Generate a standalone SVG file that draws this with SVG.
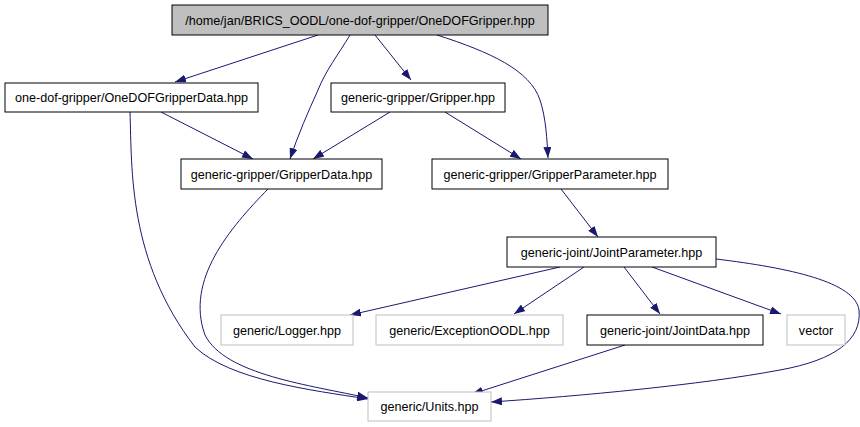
<svg xmlns="http://www.w3.org/2000/svg" width="860" height="427" viewBox="0 0 860 427">
<defs>
<style>
.n rect{fill:#fff;stroke:#000;stroke-width:1}
.n.root rect{fill:#bfbfbf}
.n.ext rect{stroke:#bfbfbf}
.n text{font-family:"Liberation Sans",Arial,sans-serif;font-size:12.6px;text-anchor:middle;fill:#000}
.e path{fill:none;stroke:#191970;stroke-width:1;marker-end:url(#ah)}
</style>
<marker id="ah" viewBox="0 0 11 8" refX="11" refY="4" markerWidth="11" markerHeight="8" markerUnits="userSpaceOnUse" orient="auto">
<path d="M0,0 L11,4 L0,8 z" fill="#191970"/>
</marker>
</defs>
<rect width="860" height="427" fill="#fff"/>
<g id="edges" class="e">
<path d="M318,35 L175,82"/>
<path d="M350,35 C338,55 326,70 318,90 C308,112 298,135 290,159"/>
<path d="M375,35 L411,80"/>
<path d="M437,35 C490,52 530,70 540,100 C546,118 547,140 548,158"/>
<path d="M161,112 L253,159"/>
<path d="M130,112 C132,170 128,260 195,347 C230,380 310,390 368,399"/>
<path d="M390,112 L313,159"/>
<path d="M445,112 L521,159"/>
<path d="M268,189 C230,228 185,280 205,335 C225,375 310,385 368,398"/>
<path d="M561,189 L598,237"/>
<path d="M560,267 L350,315"/>
<path d="M584,267 L514,314"/>
<path d="M624,267 L660,314"/>
<path d="M652,267 L781,314"/>
<path d="M716,259 C790,268 855,282 859,310 C862,340 835,360 780,370 C700,385 580,396 491,402"/>
<path d="M625,345 L472,394"/>
</g>
<g id="n_root" class="n root"><rect x="172" y="5" width="376" height="30"/><text x="360" y="24.5">/home/jan/BRICS_OODL/one-dof-gripper/OneDOFGripper.hpp</text></g>
<g id="n_onedofdata" class="n"><rect x="5" y="83" width="253" height="29"/><text x="131.5" y="102">one-dof-gripper/OneDOFGripperData.hpp</text></g>
<g id="n_gripper" class="n"><rect x="331" y="83" width="174" height="29"/><text x="418" y="102">generic-gripper/Gripper.hpp</text></g>
<g id="n_gripperdata" class="n"><rect x="181" y="159" width="201" height="30"/><text x="281.5" y="178.5">generic-gripper/GripperData.hpp</text></g>
<g id="n_gripperparam" class="n"><rect x="432" y="159" width="236" height="30"/><text x="550" y="178.5">generic-gripper/GripperParameter.hpp</text></g>
<g id="n_jointparam" class="n"><rect x="507" y="237" width="209" height="30"/><text x="611.5" y="256.5">generic-joint/JointParameter.hpp</text></g>
<g id="n_logger" class="n ext"><rect x="221" y="315" width="132" height="30"/><text x="287" y="334.5">generic/Logger.hpp</text></g>
<g id="n_exception" class="n ext"><rect x="376" y="315" width="187" height="30"/><text x="469.5" y="334.5">generic/ExceptionOODL.hpp</text></g>
<g id="n_jointdata" class="n"><rect x="587" y="315" width="176" height="30"/><text x="675" y="334.5">generic-joint/JointData.hpp</text></g>
<g id="n_vector" class="n ext"><rect x="787" y="315" width="58" height="30"/><text x="816" y="334.5">vector</text></g>
<g id="n_units" class="n ext"><rect x="368" y="392" width="123" height="29"/><text x="429.5" y="411">generic/Units.hpp</text></g>
</svg>
